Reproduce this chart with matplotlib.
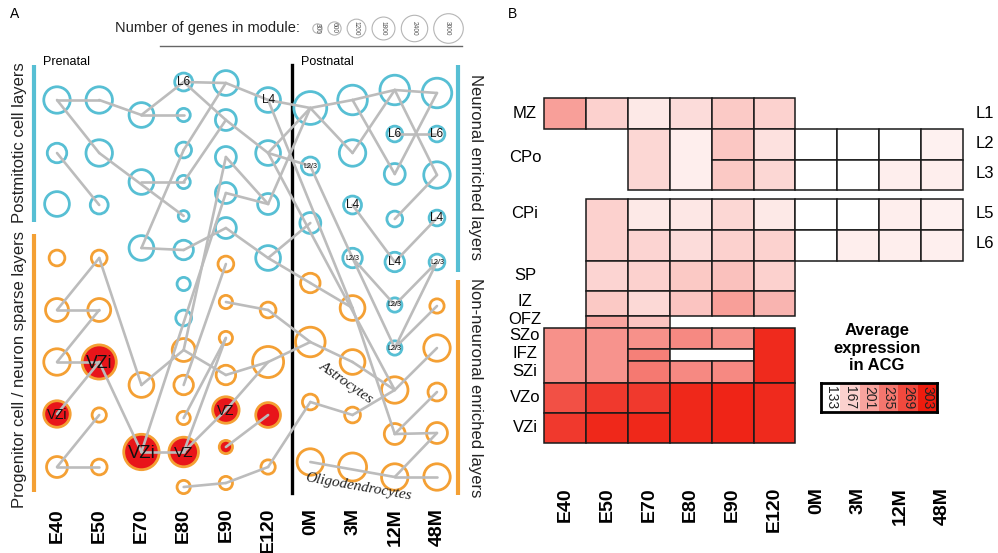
import matplotlib
matplotlib.use('Agg')
import matplotlib.pyplot as plt
import numpy as np
from matplotlib.patches import Rectangle
from matplotlib.colors import LinearSegmentedColormap, Normalize

plt.rcParams['font.family'] = ['Liberation Sans', 'DejaVu Sans']

stages = ['E40', 'E50', 'E70', 'E80', 'E90', 'E120', '0M', '3M', '12M', '48M']

# ---------------- Panel A : co-expression modules ----------------
# neuronal (cyan) modules, grouped by stage
n_names = ['a1', 'a2', 'a3', 'b1', 'b2', 'b3', 'c1', 'c2', 'c3',
           'd1', 'd2', 'd3', 'd4', 'd5', 'd6', 'd7', 'd8',
           'e1', 'e2', 'e3', 'e4', 'e5', 'f1', 'f2', 'f3', 'f4',
           'g1', 'g2', 'g3', 'h1', 'h2', 'h3', 'h4',
           'i1', 'i2', 'i3', 'i4', 'i5', 'i6', 'i7',
           'j1', 'j2', 'j3', 'j4', 'j5']
n_stage = [0, 0, 0, 1, 1, 1, 2, 2, 2,
           3, 3, 3, 3, 3, 3, 3, 3,
           4, 4, 4, 4, 4, 5, 5, 5, 5,
           6, 6, 6, 7, 7, 7, 7,
           8, 8, 8, 8, 8, 8, 8,
           9, 9, 9, 9, 9]
n_pos = [100, 153, 204, 100, 153, 205, 115, 182, 248,
         82, 115, 150, 182, 216, 250, 284, 318,
         83, 120, 157, 193, 228, 100, 153, 204, 258,
         108, 166, 223, 100, 153, 205, 258,
         90, 134, 174, 219, 262, 305, 348,
         93, 134, 175, 218, 262]
n_genes = [2400, 1300, 2100, 2400, 2400, 1100, 2100, 2100, 2100,
           1100, 600, 850, 600, 400, 1300, 600, 850,
           2100, 1500, 1500, 1500, 1500, 2100, 2100, 1500, 2100,
           3700, 1100, 1500, 3000, 2400, 1100, 1300,
           3000, 850, 1500, 850, 1300, 700, 700,
           3000, 850, 2400, 850, 850]
n_label = ['', '', '', '', '', '', '', '', '',
           'L6', '', '', '', '', '', '', '',
           '', '', '', '', '', 'L4', '', '', '',
           '', 'L2/3', '', '', '', 'L4', 'L2/3',
           '', 'L6', '', '', 'L4', 'L2/3', 'L2/3',
           '', 'L6', '', 'L4', 'L2/3']

# progenitor / non-neuronal (orange) modules
p_names = ['a4', 'a5', 'a6', 'a7', 'a8', 'b4', 'b5', 'b6', 'b7', 'b8',
           'c4', 'c5', 'd9', 'd10', 'd11', 'd12', 'd13',
           'e6', 'e7', 'e8', 'e9', 'e10', 'e11', 'e12',
           'f5', 'f6', 'f7', 'f8', 'g4', 'g5', 'g6', 'g7',
           'h5', 'h6', 'h7', 'h8', 'i8', 'i9', 'i10',
           'j6', 'j7', 'j8', 'j9', 'j10']
p_stage = [0, 0, 0, 0, 0, 1, 1, 1, 1, 1,
           2, 2, 3, 3, 3, 3, 3,
           4, 4, 4, 4, 4, 4, 4,
           5, 5, 5, 5, 6, 6, 6, 6,
           7, 7, 7, 7, 8, 8, 8,
           9, 9, 9, 9, 9]
p_pos = [258, 310, 362, 414, 467, 258, 310, 362, 415, 467,
         385, 452, 350, 385, 418, 452, 487,
         264, 302, 338, 375, 410, 447, 483,
         310, 362, 415, 467, 283, 342, 402, 462,
         308, 362, 415, 467, 390, 434, 477,
         306, 348, 392, 433, 477]
p_genes = [850, 1800, 2400, 2400, 1500, 850, 1800, 4000, 700, 850,
           2100, 4300, 1800, 1300, 600, 3000, 600,
           850, 600, 600, 1300, 2400, 600, 600,
           850, 3300, 2100, 700, 1300, 3000, 850, 2400,
           2100, 2100, 850, 2700, 2400, 1500, 2400,
           700, 2400, 1100, 1500, 2400]
p_vz = [0, 0, 0, 1, 0, 0, 0, 1, 0, 0,
        0, 1, 0, 0, 0, 1, 0,
        0, 0, 0, 0, 1, 1, 0,
        0, 0, 1, 0, 0, 0, 0, 0,
        0, 0, 0, 0, 0, 0, 0,
        0, 0, 0, 0, 0]
p_label = ['', '', '', 'VZi', '', '', '', 'VZi', '', '',
           '', 'VZi', '', '', '', 'VZ', '',
           '', '', '', '', 'VZ', '', '',
           '', '', '', '', '', '', '', '',
           '', '', '', '', '', '', '',
           '', '', '', '', '']

edges = [('a1', 'b1'), ('b1', 'c1'), ('c1', 'd1'), ('c1', 'd2'),
         ('d1', 'e1'), ('e1', 'f1'), ('f1', 'g1'), ('g1', 'h1'), ('h1', 'i1'), ('i1', 'j1'),
         ('a1', 'b2'), ('b2', 'd5'), ('c2', 'd4'), ('d4', 'e2'), ('a2', 'b3'),
         ('c3', 'd3'), ('d3', 'e1'), ('c3', 'd6'), ('d6', 'e5'), ('e5', 'f4'),
         ('f4', 'g4'), ('g4', 'h5'), ('d1', 'e2'), ('e2', 'f2'), ('f2', 'g2'),
         ('f2', 'g1'), ('e3', 'f3'), ('f3', 'g1'), ('e4', 'f3'), ('f4', 'g3'),
         ('f1', 'h5'), ('h5', 'i9'), ('f2', 'i8'), ('g2', 'h4'), ('g1', 'h2'),
         ('h2', 'i1'), ('h1', 'i3'), ('i3', 'j1'), ('i1', 'j3'), ('j3', 'i4'),
         ('i2', 'j2'), ('h3', 'i5'), ('i5', 'j4'), ('h4', 'i6'), ('h4', 'i7'),
         ('i6', 'j5'), ('i7', 'j5'),
         ('b4', 'a5'), ('b4', 'c4'), ('a5', 'b5'), ('b5', 'a6'), ('a6', 'b6'),
         ('b6', 'a7'), ('b6', 'c5'), ('a8', 'b8'), ('a8', 'b7'), ('c5', 'd12'),
         ('c4', 'd9'), ('d9', 'e3'), ('d9', 'e9'), ('e9', 'f6'), ('c5', 'e4'),
         ('e6', 'd10'), ('d11', 'e8'), ('d12', 'e8'), ('d12', 'e10'), ('e10', 'f6'),
         ('e7', 'f5'), ('f5', 'g5'), ('f6', 'g5'), ('g5', 'h6'), ('h6', 'i8'),
         ('e11', 'f7'), ('d13', 'e12'), ('e12', 'f8'), ('f8', 'g6'), ('g6', 'h7'),
         ('h7', 'i8'), ('i8', 'j7'), ('i7', 'j6'), ('g7', 'i10'), ('i10', 'j10'),
         ('i10', 'j9'), ('i9', 'j9'), ('i9', 'j8')]

legend_genes = [300, 600, 1200, 1800, 2400, 3000]

# ---------------- Panel B : heatmap ----------------
zone_labels = ['MZ', 'CPo', 'CPi', 'SP', 'IZ', 'OFZ', 'SZo', 'IFZ', 'SZi', 'VZo', 'VZi']
zone_label_pos = [113, 158, 214, 275, 302, 320, 336, 353, 372, 398, 428]
layer_labels = ['L1', 'L2', 'L3', 'L5', 'L6']
layer_label_pos = [113, 143, 174, 214, 244]

band_names = ['MZ', 'L2', 'L3', 'L5', 'L6', 'SP', 'IZ', 'OFZ', 'SZo', 'IFZ', 'SZi', 'VZo', 'VZi']
band_top = [98, 129, 160, 199, 230, 261, 291, 316, 328, 349, 361, 383, 413]
band_bottom = [129, 160, 190, 230, 261, 291, 316, 328, 349, 361, 383, 413, 443]

cell_stage_first = [0, 1, 2, 3, 4, 5,
                    2, 3, 4, 4, 5, 5, 6, 7, 8, 9, 6, 7, 8, 9,
                    1, 2, 3, 4, 5, 6, 7, 8, 9, 2, 3, 4, 5, 6, 7, 8, 9,
                    1, 2, 3, 4, 5,
                    1, 2, 3, 4, 5,
                    1, 2,
                    0, 1, 2, 2, 2, 3, 4, 3, 3, 4, 5,
                    0, 1, 2, 0, 1, 2, 3, 4, 5]
cell_stage_last = [0, 1, 2, 3, 4, 5,
                   2, 3, 4, 4, 5, 5, 6, 7, 8, 9, 6, 7, 8, 9,
                   1, 2, 3, 4, 5, 6, 7, 8, 9, 2, 3, 4, 5, 6, 7, 8, 9,
                   1, 2, 3, 4, 5,
                   1, 2, 3, 4, 5,
                   1, 2,
                   0, 1, 2, 2, 2, 3, 4, 4, 3, 4, 5,
                   0, 1, 2, 0, 1, 2, 3, 4, 5]
cell_band_first = ['MZ'] * 6 + \
    ['L2', 'L2', 'L2', 'L3', 'L2', 'L3', 'L2', 'L2', 'L2', 'L2', 'L3', 'L3', 'L3', 'L3'] + \
    ['L5'] * 9 + ['L6'] * 8 + ['SP'] * 5 + ['IZ'] * 5 + ['OFZ'] * 2 + \
    ['SZo', 'SZo', 'SZo', 'IFZ', 'SZi', 'SZo', 'SZo', 'IFZ', 'SZi', 'SZi', 'SZo'] + \
    ['VZo', 'VZo', 'VZo', 'VZi', 'VZi', 'VZi', 'VZo', 'VZo', 'VZo']
cell_band_last = ['MZ'] * 6 + \
    ['L3', 'L3', 'L2', 'L3', 'L2', 'L3', 'L2', 'L2', 'L2', 'L2', 'L3', 'L3', 'L3', 'L3'] + \
    ['L6'] + ['L5'] * 8 + ['L6'] * 8 + ['SP'] * 5 + ['IZ'] * 5 + ['OFZ'] * 2 + \
    ['SZi', 'SZi', 'SZo', 'IFZ', 'SZi', 'SZo', 'SZo', 'IFZ', 'SZi', 'SZi', 'SZi'] + \
    ['VZo', 'VZo', 'VZo', 'VZi', 'VZi', 'VZi', 'VZi', 'VZi', 'VZi']
cell_value = [205, 168, 150, 159, 173, 167,
              163, 146, 175, 174, 156, 163, 133, 133, 133, 144, 133, 133, 146, 146,
              168, 150, 151, 163, 150, 133, 133, 146, 144, 165, 159, 168, 167, 133, 146, 146, 145,
              165, 168, 174, 180, 168,
              174, 162, 177, 205, 189,
              201, 177,
              216, 214, 216, 228, 233, 221, 215, 133, 221, 221, 292,
              264, 281, 281, 281, 294, 294, 294, 297, 292]
cbar_ticks = [133, 167, 201, 235, 269, 303]

# ---------------- styling ----------------
W, H = 998, 553
CYAN = '#57bfd4'
ORANGE = '#f4a034'
RED = '#e8151a'
GREY = '#bcbcbc'
A_X0, A_DX = 57.0, 42.22
B_X0, B_DX = 565.0, 41.9

def pa(px):
    return (px - A_X0) / A_DX

def pb(px):
    return (px - B_X0) / B_DX

def r_px(n):
    return 0.27 * np.sqrt(n)

def msize(n):
    return (2 * r_px(np.asarray(n, dtype=float)) * 0.72) ** 2

fig = plt.figure(figsize=(W / 100, H / 100), dpi=100)
fig.patch.set_facecolor('white')

axA = fig.add_axes([0, 0, 500 / W, 1])
axA.set_xlim(pa(0), pa(500))
axA.set_ylim(H, 0)
axA.axis('off')

axB = fig.add_axes([500 / W, 0, 498 / W, 1])
axB.set_xlim(pb(500), pb(998))
axB.set_ylim(H, 0)
axB.axis('off')

# --- panel A nodes
pos = {}
for nm, s, y in zip(n_names, n_stage, n_pos):
    pos[nm] = (s, y)
for nm, s, y in zip(p_names, p_stage, p_pos):
    pos[nm] = (s, y)

axA.scatter(n_stage, n_pos, s=msize(n_genes), facecolors='none', edgecolors=CYAN,
            linewidths=2.0, zorder=2)
p_stage_a = np.array(p_stage)
p_pos_a = np.array(p_pos)
p_genes_a = np.array(p_genes)
vz = np.array(p_vz) == 1
axA.scatter(p_stage_a[~vz], p_pos_a[~vz], s=msize(p_genes_a[~vz]), facecolors='none',
            edgecolors=ORANGE, linewidths=2.0, zorder=2)
axA.scatter(p_stage_a[vz], p_pos_a[vz], s=msize(p_genes_a[vz]), facecolors=RED,
            edgecolors=ORANGE, linewidths=2.0, zorder=2)

for a, b in edges:
    (x1, y1), (x2, y2) = pos[a], pos[b]
    axA.plot([x1, x2], [y1, y2], color=GREY, lw=1.9, solid_capstyle='round', zorder=3)

for nm, s, y, g, lab in zip(n_names, n_stage, n_pos, n_genes, n_label):
    if lab:
        fs = 5.2 if lab == 'L2/3' else 8.5
        axA.text(s, y, lab, ha='center', va='center', fontsize=fs, color='#111111', zorder=4)
for s, y, g, lab in zip(p_stage, p_pos, p_genes, p_label):
    if lab:
        axA.text(s, y + 1, lab, ha='center', va='center', fontsize=0.75 * r_px(g),
                 color='#111111', zorder=4)

# legend of module sizes
lx = 317.0
prev = None
for g in legend_genes:
    if prev is not None:
        lx += r_px(prev) + r_px(g) + 6
    axA.scatter([pa(lx)], [28], s=msize(g), facecolors='white', edgecolors='#b5b5b5',
                linewidths=0.8, zorder=2, clip_on=False)
    axA.text(pa(lx), 28, str(g), rotation=270, ha='center', va='center', fontsize=4.8,
             color='#555555', zorder=4)
    prev = g
axA.text(pa(300), 28, 'Number of genes in module:', ha='right', va='center', fontsize=10.5,
         color='#222222')
axA.plot([pa(160), pa(462)], [46, 46], color='#666666', lw=1.0)

# annotations
axA.text(pa(10), 14, 'A', fontsize=10, ha='left', va='center')
axA.text(pa(43), 62, 'Prenatal', fontsize=9, ha='left', va='center')
axA.text(pa(301), 62, 'Postnatal', fontsize=9, ha='left', va='center')
axA.plot([pa(292), pa(292)], [65, 493], color='black', lw=2.4, zorder=1)
axA.plot([pa(34), pa(34)], [65, 222], color=CYAN, lw=3.0, solid_capstyle='butt')
axA.plot([pa(34), pa(34)], [234, 492], color=ORANGE, lw=3.0, solid_capstyle='butt')
axA.plot([pa(458), pa(458)], [65, 272], color=CYAN, lw=3.0, solid_capstyle='butt')
axA.plot([pa(458), pa(458)], [280, 495], color=ORANGE, lw=3.0, solid_capstyle='butt')
axA.text(pa(20), 143, 'Postmitotic cell layers', rotation=90, ha='center', va='center',
         fontsize=12, color='#222222')
axA.text(pa(20), 370, 'Progenitor cell / neuron sparse layers', rotation=90, ha='center',
         va='center', fontsize=12, color='#222222')
axA.text(pa(475), 167, 'Neuronal enriched layers', rotation=270, ha='center', va='center',
         fontsize=12, color='#222222')
axA.text(pa(475), 388, 'Non-neuronal enriched layers', rotation=270, ha='center',
         va='center', fontsize=12, color='#222222')
axA.text(pa(346), 383, 'Astrocytes', rotation=-35, ha='center', va='center', fontsize=11,
         family=['Liberation Serif', 'DejaVu Serif'], style='italic', color='#222222', zorder=5)
axA.text(pa(358), 487, 'Oligodendrocytes', rotation=-10, ha='center', va='center',
         fontsize=11, family=['Liberation Serif', 'DejaVu Serif'], style='italic',
         color='#222222', zorder=5)
for i, st in enumerate(stages):
    axA.text(i, 508, st, rotation=90, ha='center', va='top', fontsize=14, fontweight='bold')

# --- panel B heatmap
cmap = LinearSegmentedColormap.from_list('acg', ['#ffffff', '#ee1c0e'])
norm = Normalize(vmin=133, vmax=303)
bidx = {b: k for k, b in enumerate(band_names)}
for s0, s1, b0, b1, v in zip(cell_stage_first, cell_stage_last, cell_band_first,
                             cell_band_last, cell_value):
    y0 = band_top[bidx[b0]]
    y1 = band_bottom[bidx[b1]]
    axB.add_patch(Rectangle((s0 - 0.5, y0), s1 - s0 + 1, y1 - y0, facecolor=cmap(norm(v)),
                            edgecolor='#1a1a1a', lw=1.1, zorder=2))

for lab, y in zip(zone_labels, zone_label_pos):
    axB.text(pb(525), y, lab, ha='center', va='center', fontsize=12)
for lab, y in zip(layer_labels, layer_label_pos):
    axB.text(pb(985), y, lab, ha='center', va='center', fontsize=12)
for i, st in enumerate(stages):
    axB.text(i, 487, st, rotation=90, ha='center', va='top', fontsize=14, fontweight='bold')
axB.text(pb(508), 14, 'B', fontsize=10, ha='left', va='center')
axB.text(pb(877), 348, 'Average\nexpression\nin ACG', ha='center', va='center', fontsize=12,
         fontweight='bold', linespacing=1.2)

cax = fig.add_axes([821 / W, 1 - 412 / H, 116 / W, 29 / H])
cax.imshow(np.array([cbar_ticks]), cmap=cmap, norm=norm, aspect='auto',
           extent=(-0.5, len(cbar_ticks) - 0.5, 0.5, -0.5))
for i, t in enumerate(cbar_ticks):
    cax.text(i, 0, str(t), rotation=270, ha='center', va='center', fontsize=10,
             color='#222222')
cax.set_xticks([])
cax.set_yticks([])
for sp in cax.spines.values():
    sp.set_linewidth(2.0)

fig.savefig('out.png', dpi=100, facecolor='white')
